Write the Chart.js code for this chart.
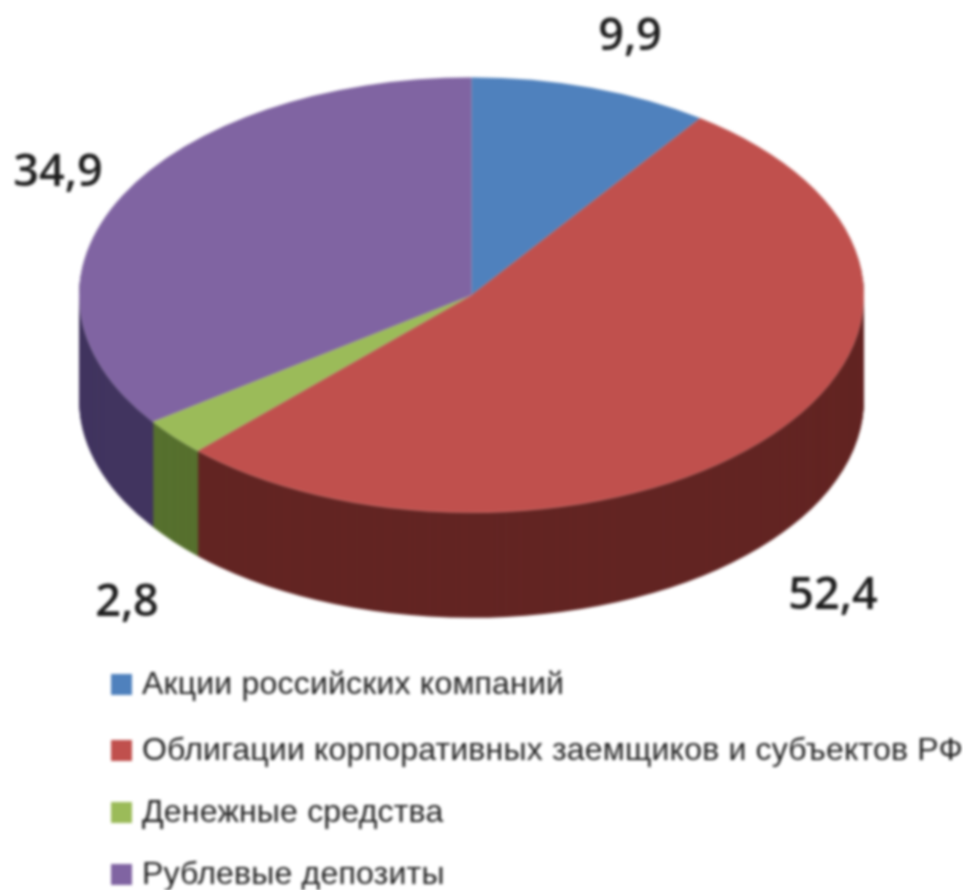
<!DOCTYPE html>
<html lang="ru">
<head>
<meta charset="utf-8">
<title>Структура портфеля</title>
<script src="https://cdn.jsdelivr.net/npm/chart.js@4"></script>
<style>
  html, body { margin: 0; background: #fff; }
  #pie { display: block; filter: blur(1.7px); }
</style>
</head>
<body>
<canvas id="pie" width="963" height="890"></canvas>
<script>
// -------------------------------
// DATA
// -------------------------------
const categories = [
  "Акции российских компаний",
  "Облигации корпоративных заемщиков и субъектов РФ",
  "Денежные средства",
  "Рублевые депозиты"
];
const values = [9.9, 52.4, 2.8, 34.9];
const valueLabels = ["9,9", "52,4", "2,8", "34,9"];

// -------------------------------
// STYLE
// -------------------------------
const topColors = ["#4f81bd", "#c0504d", "#9bbb59", "#8064a2"];
const wallColors = ["#2a4565", "#632523", "#56702e", "#41345f"];
const labelCenters = [[630, 37], [833, 596], [127, 603], [58, 173]];
const legendRows = [685, 751, 813, 875];

const squash = 218 / 393;   // наклон диска
const topY = 295;           // центр верхней грани на экране
const depth = 105;          // высота боковой стенки

function tilt(ctx, chart, dy) {
  const cy = chart.getDatasetMeta(0).data[0].y;
  ctx.translate(0, topY + dy);
  ctx.scale(1, squash);
  ctx.translate(0, -cy);
}

// -------------------------------
// 3D: STENKA + NAKLON
// -------------------------------
const tiltPlugin = {
  id: "tilt",
  beforeDatasetsDraw(chart) {
    const ctx = chart.ctx;
    const arcs = chart.getDatasetMeta(0).data;
    for (let d = depth; d > 0; d--) {
      ctx.save();
      tilt(ctx, chart, d);
      arcs.forEach((arc, i) => {
        const saved = arc.options;
        arc.options = Object.assign({}, saved, {
          backgroundColor: wallColors[i],
          borderColor: wallColors[i],
          borderWidth: 0
        });
        arc.draw(ctx);
        arc.options = saved;
      });
      ctx.restore();
    }
    ctx.save();
    tilt(ctx, chart, 0);
  },
  afterDatasetsDraw(chart) {
    chart.ctx.restore();
  }
};

// -------------------------------
// PODPISI + LEGENDA
// -------------------------------
const textPlugin = {
  id: "texts",
  afterDraw(chart) {
    const ctx = chart.ctx;
    ctx.save();
    ctx.textBaseline = "middle";

    ctx.fillStyle = "#1c1c1c";
    ctx.textAlign = "center";
    ctx.font = "600 45px 'Open Sans'";
    valueLabels.forEach((txt, i) => {
      ctx.fillText(txt, labelCenters[i][0], labelCenters[i][1]);
    });

    ctx.textAlign = "left";
    ctx.font = "32px 'Liberation Sans'";
    ctx.letterSpacing = "0.2px";
    categories.forEach((name, i) => {
      ctx.fillStyle = topColors[i];
      ctx.fillRect(111, legendRows[i] - 11, 21, 21);
      ctx.fillStyle = "#222222";
      ctx.fillText(name, 142, legendRows[i]);
    });
    ctx.restore();
  }
};

new Chart(document.getElementById("pie").getContext("2d"), {
  type: "pie",
  data: {
    labels: categories,
    datasets: [{
      data: values,
      backgroundColor: topColors,
      borderColor: "rgba(255,255,255,0.22)",
      borderWidth: 1,
      clip: false
    }]
  },
  options: {
    responsive: false,
    animation: false,
    events: [],
    layout: { padding: { left: 78, right: 98, top: 52, bottom: 52 } },
    plugins: {
      legend: { display: false },
      tooltip: { enabled: false }
    }
  },
  plugins: [tiltPlugin, textPlugin]
});
</script>
</body>
</html>
